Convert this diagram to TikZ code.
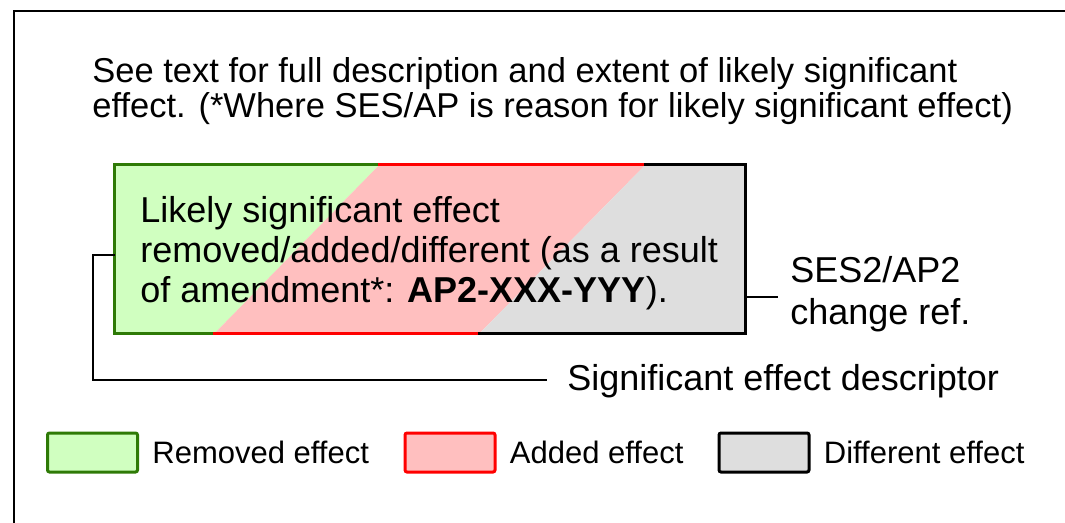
\documentclass[tikz,border=0pt]{standalone}
\usepackage{fontspec}
\setmainfont{Liberation Sans}
\usetikzlibrary{positioning,calc}
\definecolor{remfill}{HTML}{D0FFC0}
\definecolor{remdraw}{HTML}{2E7A06}
\definecolor{addfill}{HTML}{FFBFBF}
\definecolor{adddraw}{HTML}{FF0000}
\definecolor{diffill}{HTML}{DEDEDE}
\tikzset{
  effect/.style={
    inner sep = 0pt,
    shape = rectangle,
    minimum width = 315pt,
    minimum height = 84pt
  },
  edge3/.style={
    line width = 1.5pt,
    line cap = rect
  },
  key/.style={
    shape = rectangle,
    rounded corners = 1pt,
    line width = 1.5pt,
    minimum width = 45pt,
    minimum height = 19.5pt,
    inner sep = 0pt
  },
  keytext/.style={
    font = \fontsize{15.5pt}{17pt}\selectfont,
    inner sep = 0pt,
    anchor = west
  },
  lead/.style={
    line width = 0.8pt
  },
  note/.style={
    font = \fontsize{18pt}{20pt}\selectfont,
    align = left,
    inner sep = 0pt
  }
}
\begin{document}
\begin{tikzpicture}[x=0.5pt,y=-0.5pt]
\useasboundingbox (0,0) rectangle (1065,523);
% outer frame
\draw[line width=1pt] (1065,11) -- (14,11) -- (14,523);
% heading
\node[note,anchor=north west,font=\fontsize{17.25pt}{17.75pt}\selectfont] (intro) at (92,57)
  {See text for full description and extent of likely significant\\
   effect. (*Where SES/AP is reason for likely significant effect)};
% effect box
\node[effect] (box) at (430,249) {};
\coordinate (gt) at ($(box.north west)+(265,0)$);
\coordinate (rt) at ($(box.north west)+(531,0)$);
\coordinate (gb) at ($(box.south west)+(100,0)$);
\coordinate (rb) at ($(box.south west)+(365,0)$);
\fill[remfill] (box.north west) -- (gt) -- (gb) -- (box.south west) -- cycle;
\fill[addfill] (gt) -- (rt) -- (rb) -- (gb) -- cycle;
\fill[diffill] (rt) -- (box.north east) -- (box.south east) -- (rb) -- cycle;
\draw[edge3,remdraw] (gt) -- (box.north west) -- (box.south west) -- (gb);
\draw[edge3,adddraw] (gt) -- (rt) (gb) -- (rb);
\draw[edge3,black] (rt) -- (box.north east) -- (box.south east) -- (rb);
\node[note,anchor=west] (boxtext) at (140,253)
  {Likely significant effect\\
   removed/added/different (as a result\\
   of amendment*: \textbf{AP2-XXX-YYY}).};
% callouts
\node[note,anchor=west,font=\fontsize{18pt}{21pt}\selectfont] (ref) at (790,294) {SES2/AP2\\change ref.};
\node[note,anchor=west] (desc) at (567,381) {Significant effect descriptor};
\coordinate (refend) at (778,297);
\coordinate (descturn) at (93,380);
\draw[lead] ($(box.east)+(0,48)$) -- (refend);
\draw[lead] ($(box.west)+(0,6)$) -| (descturn) -- ($(desc.west)+(-20,-1)$);
% legend
\node[key,draw=remdraw,fill=remfill] (keyrem) at (92.5,452.5) {};
\node[key,draw=adddraw,fill=addfill] (keyadd) at (450,452.5) {};
\node[key,draw=black,fill=diffill] (keydif) at (764,452.5) {};
\node[keytext,right=13 of keyrem] (remtext) {Removed effect};
\node[keytext,right=13 of keyadd] (addtext) {Added effect};
\node[keytext,right=13 of keydif] (diftext) {Different effect};
\end{tikzpicture}
\end{document}
